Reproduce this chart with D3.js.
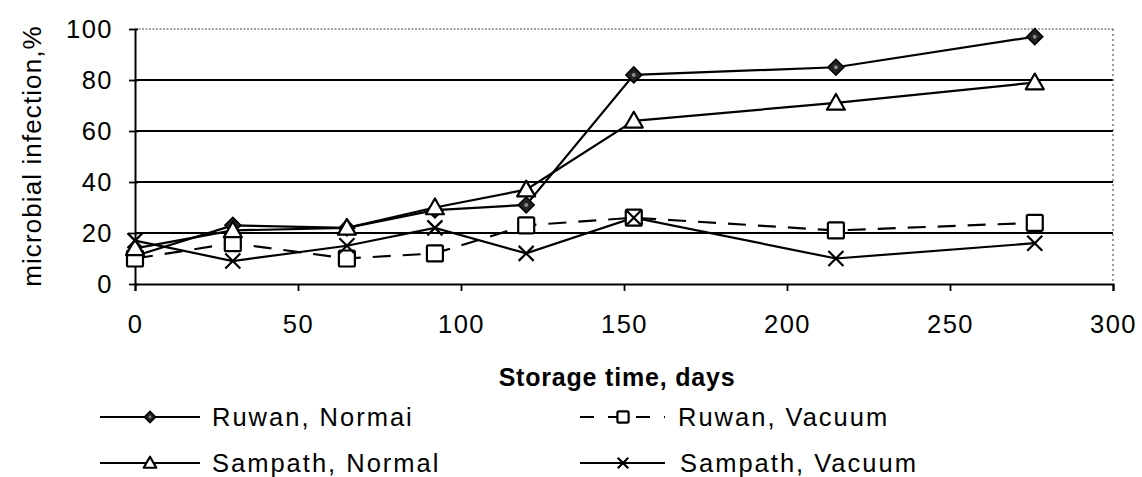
<!DOCTYPE html>
<html>
<head>
<meta charset="utf-8">
<script src="https://cdn.jsdelivr.net/npm/d3@7"></script>
<style>
  html, body { margin: 0; padding: 0; background: #fff; }
  svg { display: block; }
  text { font-family: "Liberation Sans", Arial, sans-serif; fill: #000; }
</style>
</head>
<body>
<svg id="chart" width="1142" height="477"></svg>
<script>
const days = [0, 30, 65, 92, 120, 153, 215, 276];
const ruwanNormal = [11, 23, 22, 29, 31, 82, 85, 97];
const ruwanVacuum = [10, 16, 10, 12, 23, 26, 21, 24];
const sampathNormal = [14, 21, 22, 30, 37, 64, 71, 79];
const sampathVacuum = [17, 9, 15, 22, 12, 26, 10, 16];
const xTicks = [0, 50, 100, 150, 200, 250, 300];
const yTicks = [0, 20, 40, 60, 80, 100];
const seriesNames = ["Ruwan, Normai", "Ruwan, Vacuum", "Sampath, Normal", "Sampath, Vacuum"];

const svg = d3.select("#chart");
const L = 135, R = 1113, T = 29, B = 284;
const x = d3.scaleLinear().domain([0, 300]).range([L, R]);
const y = d3.scaleLinear().domain([0, 100]).range([B, T]);

// gridlines
svg.append("g").selectAll("line").data(yTicks.filter(v => v > 0 && v < 100)).join("line")
  .attr("x1", L).attr("x2", R).attr("y1", d => y(d)).attr("y2", d => y(d))
  .attr("stroke", "#000").attr("stroke-width", 1.8);
// dotted top and right border
svg.append("line").attr("x1", L).attr("x2", R).attr("y1", y(100)).attr("y2", y(100))
  .attr("stroke", "#444").attr("stroke-width", 1.2).attr("stroke-dasharray", "2,1.5");
svg.append("line").attr("x1", R).attr("x2", R).attr("y1", y(100)).attr("y2", y(0))
  .attr("stroke", "#555").attr("stroke-width", 1.2).attr("stroke-dasharray", "2,3");

// axes
const yAxis = d3.axisLeft(y).tickValues(yTicks).tickSize(0).tickPadding(22);
const gy = svg.append("g").attr("transform", `translate(${L},0)`).call(yAxis);
gy.select(".domain").attr("stroke", "#000").attr("stroke-width", 2);
gy.selectAll(".tick text").attr("font-size", 25.5).attr("letter-spacing", 1.5)
  .attr("font-family", "Liberation Sans, Arial, sans-serif").attr("fill", "#000");
gy.selectAll(".tick").append("line").attr("x1", -6).attr("x2", 3).attr("stroke", "#000").attr("stroke-width", 1.8);

const xAxis = d3.axisBottom(x).tickValues(xTicks).tickSize(7).tickPadding(24);
const gx = svg.append("g").attr("transform", `translate(0,${B})`).call(xAxis);
gx.select(".domain").attr("stroke", "#000").attr("stroke-width", 2);
gx.selectAll(".tick line").attr("stroke", "#000").attr("stroke-width", 1.8);
gx.selectAll(".tick text").attr("font-size", 25.5).attr("letter-spacing", 1.5)
  .attr("font-family", "Liberation Sans, Arial, sans-serif").attr("fill", "#000");

// axis titles
svg.append("text").attr("transform", "translate(41,156) rotate(-90)")
  .attr("text-anchor", "middle").attr("font-size", 26).attr("letter-spacing", 1.1)
  .text("microbial infection,%");
svg.append("text").attr("x", 617).attr("y", 386).attr("text-anchor", "middle")
  .attr("font-size", 25).attr("font-weight", "bold").attr("letter-spacing", 0.8)
  .text("Storage time, days");

// series
const series = [
  { name: seriesNames[0], vals: ruwanNormal, dash: null, marker: "diamond" },
  { name: seriesNames[1], vals: ruwanVacuum, dash: "18,12", marker: "square" },
  { name: seriesNames[2], vals: sampathNormal, dash: null, marker: "triangle" },
  { name: seriesNames[3], vals: sampathVacuum, dash: null, marker: "cross" }
];

function drawMarker(g, type, cx, cy, scale) {
  const s = scale || 1;
  if (type === "diamond") {
    const r = 8 * s;
    g.append("path").attr("d", `M${cx},${cy - r}L${cx + r},${cy}L${cx},${cy + r}L${cx - r},${cy}Z`)
      .attr("fill", "#222").attr("stroke", "#000").attr("stroke-width", 1.5);
    g.append("circle").attr("cx", cx).attr("cy", cy).attr("r", 2 * s).attr("fill", "#888");
  } else if (type === "square") {
    const h = 8 * s;
    g.append("rect").attr("x", cx - h).attr("y", cy - h).attr("width", 2 * h).attr("height", 2 * h)
      .attr("rx", 1.5).attr("fill", "#fff").attr("stroke", "#000").attr("stroke-width", 2.2);
  } else if (type === "triangle") {
    const h = 9 * s;
    g.append("path").attr("d", `M${cx},${cy - h}L${cx + h},${cy + h * 0.75}L${cx - h},${cy + h * 0.75}Z`)
      .attr("fill", "#fff").attr("stroke", "#000").attr("stroke-width", 2.2).attr("stroke-linejoin", "round");
  } else if (type === "cross") {
    const h = 7.5 * s;
    g.append("path").attr("d", `M${cx - h},${cy - h}L${cx + h},${cy + h}M${cx - h},${cy + h}L${cx + h},${cy - h}`)
      .attr("stroke", "#000").attr("stroke-width", 2.2);
  }
}

const line = d3.line().x(d => x(d[0])).y(d => y(d[1]));
series.forEach(s => {
  const pts = days.map((d, i) => [d, s.vals[i]]);
  svg.append("path").datum(pts).attr("d", line).attr("fill", "none")
    .attr("stroke", "#000").attr("stroke-width", 2.2)
    .attr("stroke-dasharray", s.dash);
});
series.forEach(s => {
  const g = svg.append("g");
  days.forEach((d, i) => drawMarker(g, s.marker, x(d), y(s.vals[i])));
});

// legend
const legendPos = [
  { lx1: 100, lx2: 200, mx: 150, tx: 212, y: 417 },
  { lx1: 580, lx2: 665, mx: 623, tx: 678, y: 417 },
  { lx1: 100, lx2: 200, mx: 150, tx: 212, y: 463 },
  { lx1: 580, lx2: 665, mx: 623, tx: 680, y: 463 }
];
const lg = svg.append("g");
series.forEach((s, i) => {
  const p = legendPos[i];
  lg.append("line").attr("x1", p.lx1).attr("x2", p.lx2).attr("y1", p.y).attr("y2", p.y)
    .attr("stroke", "#000").attr("stroke-width", 1.8).attr("stroke-dasharray", s.dash ? "14,14" : null);
  drawMarker(lg, s.marker, p.mx, p.y, 0.7);
  lg.append("text").attr("x", p.tx).attr("y", p.y + 9).attr("font-size", 25.5)
    .attr("letter-spacing", 2).text(s.name);
});
</script>
</body>
</html>
